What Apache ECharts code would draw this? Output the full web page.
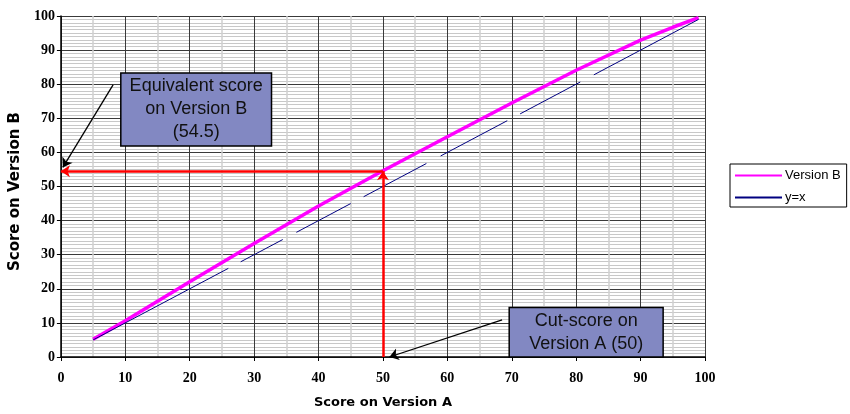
<!DOCTYPE html>
<html>
<head>
<meta charset="utf-8">
<script src="https://cdn.jsdelivr.net/npm/echarts@6/dist/echarts.min.js"></script>
<style>html,body{margin:0;padding:0;background:#fff}#c{width:850px;height:414px}</style>
</head>
<body>
<div id="c"></div>
<script>
// ---- data ----
const versionAScores = [5, 10, 20, 30, 40, 50, 60, 70, 80, 90, 95, 99];
const versionBScores = [5.2, 10.6, 22.1, 33.3, 44.3, 54.6, 64.6, 74.5, 84.1, 92.9, 96.7, 99.5];
const identityX = [5, 99];
const identityY = [5, 99];
const xTicks = [0, 10, 20, 30, 40, 50, 60, 70, 80, 90, 100];
const yTicks = [0, 10, 20, 30, 40, 50, 60, 70, 80, 90, 100];
const cutScoreA = 50;
const equivalentB = 54.5;
const seriesNames = ['Version B', 'y=x'];
const boxEquivText = 'Equivalent score\non Version B\n(54.5)';
const boxCutText = 'Cut-score on\nVersion A (50)';
// annotation anchor points (data space)
const boxEquiv = [[9.3, 83.3], [32.7, 61.9]];
const boxCut = [[69.6, 14.5], [93.5, 0]];
const arrowEquiv = [[8.1, 79.8], [0.3, 55.6]];
const arrowCut = [[68.5, 10.9], [51, 0]];

const chart = echarts.init(document.getElementById('c'), null, {renderer: 'canvas'});
const tickFont = {fontFamily: 'Liberation Serif', fontWeight: 'bold', fontSize: 14, color: '#000'};

const option = {
  animation: false,
  grid: {left: 57.5, right: 145, top: 16, bottom: 56.7, containLabel: false},
  xAxis: {
    type: 'value', min: xTicks[0], max: xTicks[xTicks.length - 1], interval: 10,
    name: 'Score on Version A', nameLocation: 'middle', nameGap: 39,
    nameTextStyle: {fontFamily: 'DejaVu Sans', fontWeight: 'bold', fontSize: 13, color: '#000'},
    axisLine: {show: true, onZero: false, lineStyle: {color: '#000', width: 1.5}},
    axisTick: {show: true, inside: false, length: 4, lineStyle: {color: '#000'}},
    axisLabel: Object.assign({margin: 14}, tickFont),
    splitLine: {show: true, lineStyle: {color: '#3a3a3a', width: 1}},
    minorTick: {show: false, splitNumber: 2},
    minorSplitLine: {show: true, lineStyle: {color: '#d0d0d0', width: 1.5}}
  },
  yAxis: {
    type: 'value', min: yTicks[0], max: yTicks[yTicks.length - 1], interval: 10,
    name: 'Score on Version B', nameLocation: 'middle', nameGap: 32, nameRotate: 90,
    nameTextStyle: {fontFamily: 'DejaVu Sans', fontWeight: 'bold', fontSize: 15, color: '#000', padding: [0, 0, 0, -10]},
    axisLine: {show: true, onZero: false, lineStyle: {color: '#000', width: 1.5}},
    axisTick: {show: true, inside: false, length: 4, lineStyle: {color: '#000'}},
    axisLabel: Object.assign({margin: 6}, tickFont),
    splitLine: {show: true, lineStyle: {color: '#3a3a3a', width: 1}},
    minorTick: {show: false, splitNumber: 10},
    minorSplitLine: {show: true, lineStyle: {color: '#c8c8c8', width: 1}}
  },
  legend: {
    data: seriesNames, orient: 'vertical', left: 730, top: 164,
    backgroundColor: '#fff', borderColor: '#000', borderWidth: 1, borderRadius: 0,
    padding: [5, 6, 3, 4], itemGap: 9, itemWidth: 47, itemHeight: 14,
    itemStyle: {opacity: 0, borderWidth: 0},
    textStyle: {fontFamily: 'Liberation Sans', fontSize: 13, color: '#000', padding: [0, 0, 0, -2]},
    selectedMode: false
  },
  series: [
    {
      name: seriesNames[0], type: 'line', symbol: 'none', z: 3,
      data: versionAScores.map((x, i) => [x, versionBScores[i]]),
      lineStyle: {color: '#ff00ff', width: 3.5}, itemStyle: {color: '#ff00ff'},
      emphasis: {disabled: true}
    },
    {
      name: seriesNames[1], type: 'line', symbol: 'none', z: 4,
      data: identityX.map((x, i) => [x, identityY[i]]),
      lineStyle: {color: '#000080', width: 1, type: [153, 14, 47.6, 15.4, 61.5, 14.6, 71, 16.1, 75.4, 14.6, 68, 15.4, 400]},
      itemStyle: {color: '#000080'},
      emphasis: {disabled: true}
    },
    {
      name: 'annotations', type: 'line', data: [], z: 5, silent: true,
      markArea: {
        silent: true,
        itemStyle: {color: '#8288c2', opacity: 1, borderColor: '#000', borderWidth: 1.5},
        label: {show: true, position: 'inside', fontFamily: 'Liberation Sans', fontSize: 18, lineHeight: 23, color: '#111', align: 'center', verticalAlign: 'middle'},
        emphasis: {disabled: true},
        data: [
          [{coord: boxEquiv[0], name: boxEquivText}, {coord: boxEquiv[1]}],
          [{coord: boxCut[0], name: boxCutText}, {coord: boxCut[1]}]
        ]
      },
      markLine: {
        silent: true, animation: false,
        symbol: ['none', 'arrow'], symbolSize: 9,
        label: {show: false},
        emphasis: {disabled: true},
        data: [
          [{coord: [cutScoreA, equivalentB], lineStyle: {color: '#ff0000', width: 2.5, type: 'solid'}, itemStyle: {color: '#ff0000'}}, {coord: [0, equivalentB], itemStyle: {color: '#ff0000'}}],
          [{coord: [cutScoreA, 0], lineStyle: {color: '#ff0000', width: 2.5, type: 'solid'}, itemStyle: {color: '#ff0000'}}, {coord: [cutScoreA, equivalentB], itemStyle: {color: '#ff0000'}}],
          [{coord: arrowEquiv[0], lineStyle: {color: '#000', width: 1.3, type: 'solid'}, itemStyle: {color: '#000'}}, {coord: arrowEquiv[1], itemStyle: {color: '#000'}}],
          [{coord: arrowCut[0], lineStyle: {color: '#000', width: 1.3, type: 'solid'}, itemStyle: {color: '#000'}}, {coord: arrowCut[1], itemStyle: {color: '#000'}}]
        ]
      }
    }
  ]
};
chart.setOption(option);
</script>
</body>
</html>
